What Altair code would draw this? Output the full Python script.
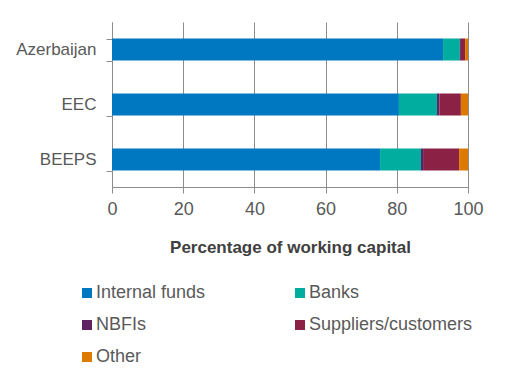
import altair as alt
import pandas as pd

regions = ["Azerbaijan", "EEC", "BEEPS"]
sources = ["Internal funds", "Banks", "NBFIs", "Suppliers/customers", "Other"]
colors = ["#0078C1", "#00AD9F", "#5F2160", "#8B2246", "#DC7A00"]

internal_funds = [93.0, 80.6, 75.3]
banks = [4.7, 10.7, 11.5]
nbfis = [0.3, 0.7, 0.8]
suppliers = [1.2, 6.0, 9.9]
other = [0.8, 2.0, 2.5]

series = [internal_funds, banks, nbfis, suppliers, other]
rows = []
for si, (src, vals) in enumerate(zip(sources, series)):
    for r, v in zip(regions, vals):
        rows.append({"region": r, "source": src, "value": v, "ord": si})
df = pd.DataFrame(rows)

FONT = "Liberation Sans"

chart = alt.Chart(df).mark_bar().encode(
    x=alt.X(
        "value:Q",
        stack="zero",
        scale=alt.Scale(domain=[0, 100], nice=False),
        axis=alt.Axis(
            title="Percentage of working capital",
            values=[0, 20, 40, 60, 80, 100],
            grid=True, gridColor="#8c8c8c", gridWidth=1,
            domainColor="#8c8c8c", tickColor="#8c8c8c", tickSize=6,
            labelFont=FONT, labelFontSize=18, labelColor="#595959", labelPadding=7,
            titleFont=FONT, titleFontSize=17, titleFontWeight="bold", titleColor="#404040",
            titlePadding=21, labelFlush=False,
        ),
    ),
    y=alt.Y(
        "region:N",
        sort=regions,
        scale=alt.Scale(paddingInner=0.6, paddingOuter=0.3),
        axis=alt.Axis(
            title=None,
            domainColor="#8c8c8c", tickColor="#8c8c8c", tickSize=6, tickBand="extent",
            labelFont=FONT, labelFontSize=17, labelColor="#595959", labelPadding=10,
        ),
    ),
    color=alt.Color(
        "source:N",
        sort=sources,
        scale=alt.Scale(domain=sources, range=colors),
        legend=alt.Legend(
            title=None, orient="none", legendX=-34, legendY=262, columns=2,
            direction="horizontal", padding=0,
            columnPadding=85, rowPadding=14, symbolType="square", symbolSize=100,
            symbolStrokeWidth=0, labelFont=FONT, labelFontSize=18, labelColor="#595959",
            labelOffset=0, labelLimit=300,
        ),
    ),
    order=alt.Order("ord:Q", sort="ascending"),
).properties(
    width=356, height=165,
    autosize=alt.AutoSizeParams(type="none"),
    padding={"left": 104, "top": 14, "right": 28, "bottom": 185},
).configure_view(stroke=None)

chart.save("out.html", embed_options={"renderer": "svg", "actions": False})
